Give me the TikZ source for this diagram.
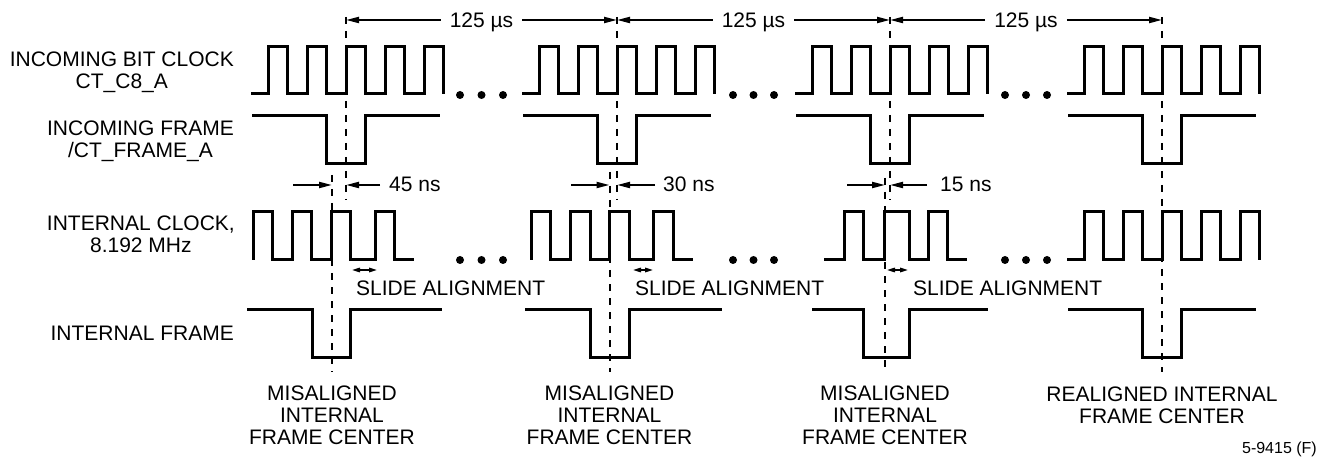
\documentclass[tikz,border=0pt]{standalone}
\usepackage{fontspec}
\setmainfont{Liberation Sans}
\usetikzlibrary{arrows.meta}
\newcommand\mainfs{\fontsize{21pt}{22pt}\selectfont}
\newcommand\footfs{\fontsize{16pt}{18pt}\selectfont}
% clock segment: #1 centre, #2 high y, #3 low y
\newcommand\wvclk[3]{\draw[wave] ({#1-95},#3) -| ({#1-78},#2) -| ({#1-58.5},#3) -| ({#1-39},#2) -| ({#1-19.5},#3) -| ({#1},#2) -| ({#1+19.5},#3) -| ({#1+39},#2) -| ({#1+58.5},#3) -| ({#1+78},#2) -| ({#1+97.5},#3);}
% frame segment: #1 centre, #2 high y, #3 low y
\newcommand\wvfrm[3]{\draw[wave] ({#1-94},#2) -| ({#1-19.5},#3) -| ({#1+19.5},#2) -- ({#1+94},#2);}
\begin{document}
\begin{tikzpicture}[x=1pt,y=-1pt,
  wave/.style={line width=3pt},
  guide/.style={line width=2pt, dash pattern=on 7pt off 7pt},
  dim/.style={line width=2pt, -{Triangle[length=13pt,width=6pt]}},
  slidearr/.style={line width=1.5pt, {Triangle[length=8pt,width=4.5pt]}-{Triangle[length=8pt,width=4.5pt]}},
  lbl/.style={font=\mainfs, inner sep=0pt, align=center},
  dimlbl/.style={font=\mainfs, inner xsep=9pt, inner ysep=0pt},
  dotm/.style={fill=black}]
\fill[white] (0,0) rectangle (1323,465);
\useasboundingbox (0,0) rectangle (1323,465);

% ---- row labels
\node[lbl, anchor=north east] (l1) at (234,52) {INCOMING BIT CLOCK\\CT\_C8\_A};
\node[lbl, anchor=north east] (l2) at (234,121) {INCOMING FRAME\\/CT\_FRAME\_A};
\node[lbl, anchor=north east] (l3) at (235,216) {INTERNAL CLOCK,\\8.192 MHz};
\node[lbl, anchor=north east] (l4) at (234,326) {INTERNAL FRAME};

% ---- guide (dashed) lines
\coordinate (c1t) at (346,17);  \coordinate (c1b) at (346,200);
\coordinate (c2t) at (617,17);  \coordinate (c2b) at (617,200);
\coordinate (c3t) at (890,17);  \coordinate (c3b) at (890,200);
\coordinate (c4t) at (1162,17); \coordinate (c4b) at (1162,372);
\coordinate (d1t) at (332,175); \coordinate (d1b) at (332,372);
\coordinate (d2t) at (609.5,172); \coordinate (d2b) at (609.5,372);
\coordinate (d3t) at (885,178); \coordinate (d3b) at (885,372);
\foreach \g in {c1,c2,c3,c4,d1,d2,d3} \draw[guide] (\g t) -- (\g b);

% ---- incoming bit clock
\wvclk{346}{47}{94}
\wvclk{617}{47}{94}
\wvclk{890}{47}{94}
\wvclk{1162}{47}{94}

% ---- incoming frame
\wvfrm{346}{116}{164}
\wvfrm{617}{116}{164}
\wvfrm{890}{116}{164}
\wvfrm{1162}{116}{164}

% ---- internal clock
\draw[wave] (253,260) -- (253,212) -| (272.5,260) -| (292,212) -| (311.5,260) -| (331,212) -| (350.5,260) -| (375,212) -| (394.5,260) -- (414,260);
\draw[wave] (531,260) -- (531,212) -| (550.5,260) -| (570,212) -| (590,260) -| (609.5,212) -| (629,260) -| (653,212) -| (673,260) -- (693,260);
\draw[wave] (824,260) -| (844,212) -| (863.5,260) -| (884.5,212) -| (909,260) -| (928,212) -| (947.5,260) -- (967,260);
\wvclk{1162}{212}{260}

% ---- internal frame
\draw[wave] (247,309) -| (312,357) -| (350,309) -- (442,309);
\draw[wave] (525,309) -| (590,357) -| (629,309) -- (722,309);
\draw[wave] (812,309) -| (863.5,357) -| (909,309) -- (988,309);
\draw[wave] (1068,309) -| (1142.5,357) -| (1181.5,309) -- (1256,309);

% ---- continuation dots
\foreach \x in {460,481.5,503,733,753.5,774,1005,1026,1047} {
  \fill[dotm] (\x,95) circle[radius=4pt];
  \fill[dotm] (\x,260) circle[radius=4pt];
}

% ---- 125 us dimensions
\coordinate (a1) at (346,20); \coordinate (a2) at (617,20);
\coordinate (a3) at (890,20); \coordinate (a4) at (1162,20);
\node[dimlbl, anchor=base] (p1) at (481.5,28) {125 µs};
\node[dimlbl, anchor=base] (p2) at (753.5,28) {125 µs};
\node[dimlbl, anchor=base] (p3) at (1026,28) {125 µs};
\draw[dim] (p1.west |- a1) -- (a1);
\draw[dim] (p1.east |- a2) -- (a2);
\draw[dim] (p2.west |- a2) -- (a2);
\draw[dim] (p2.east |- a3) -- (a3);
\draw[dim] (p3.west |- a3) -- (a3);
\draw[dim] (p3.east |- a4) -- (a4);

% ---- ns offsets
\coordinate (n1l) at (293,185); \coordinate (n1d) at (332,185);
\coordinate (n1r) at (380,185); \coordinate (n1c) at (346,185);
\coordinate (n2l) at (571,185); \coordinate (n2d) at (609.5,185);
\coordinate (n2r) at (655,185); \coordinate (n2c) at (617,185);
\coordinate (n3l) at (847,185); \coordinate (n3d) at (885,185);
\coordinate (n3r) at (927,185); \coordinate (n3c) at (890,185);
\foreach \i in {1,2,3} {
  \draw[dim] (n\i l) -- (n\i d);
  \draw[dim] (n\i r) -- (n\i c);
}
\node[lbl, anchor=base west] (ns1) at (389,192) {45 ns};
\node[lbl, anchor=base west] (ns2) at (663,192) {30 ns};
\node[lbl, anchor=base west] (ns3) at (940,192) {15 ns};

% ---- slide alignment
\coordinate (s1a) at (352,270); \coordinate (s1b) at (377,270);
\coordinate (s2a) at (633,270); \coordinate (s2b) at (653,270);
\coordinate (s3a) at (887,270); \coordinate (s3b) at (908,270);
\foreach \i in {1,2,3} \draw[slidearr] (s\i a) -- (s\i b);
\node[lbl, anchor=base west] (sl1) at (356,295) {SLIDE ALIGNMENT};
\node[lbl, anchor=base west] (sl2) at (635,295) {SLIDE ALIGNMENT};
\node[lbl, anchor=base west] (sl3) at (913,295) {SLIDE ALIGNMENT};

% ---- bottom labels
\node[lbl, anchor=north] (b1) at (332,386) {MISALIGNED\\INTERNAL\\FRAME CENTER};
\node[lbl, anchor=north] (b2) at (609.5,386) {MISALIGNED\\INTERNAL\\FRAME CENTER};
\node[lbl, anchor=north] (b3) at (885,386) {MISALIGNED\\INTERNAL\\FRAME CENTER};
\node[lbl, anchor=north] (b4) at (1162,387) {REALIGNED INTERNAL\\FRAME CENTER};

% ---- figure number
\node[font=\footfs, inner sep=0pt, anchor=base east] (fig) at (1317,453) {5-9415 (F)};
\end{tikzpicture}
\end{document}
